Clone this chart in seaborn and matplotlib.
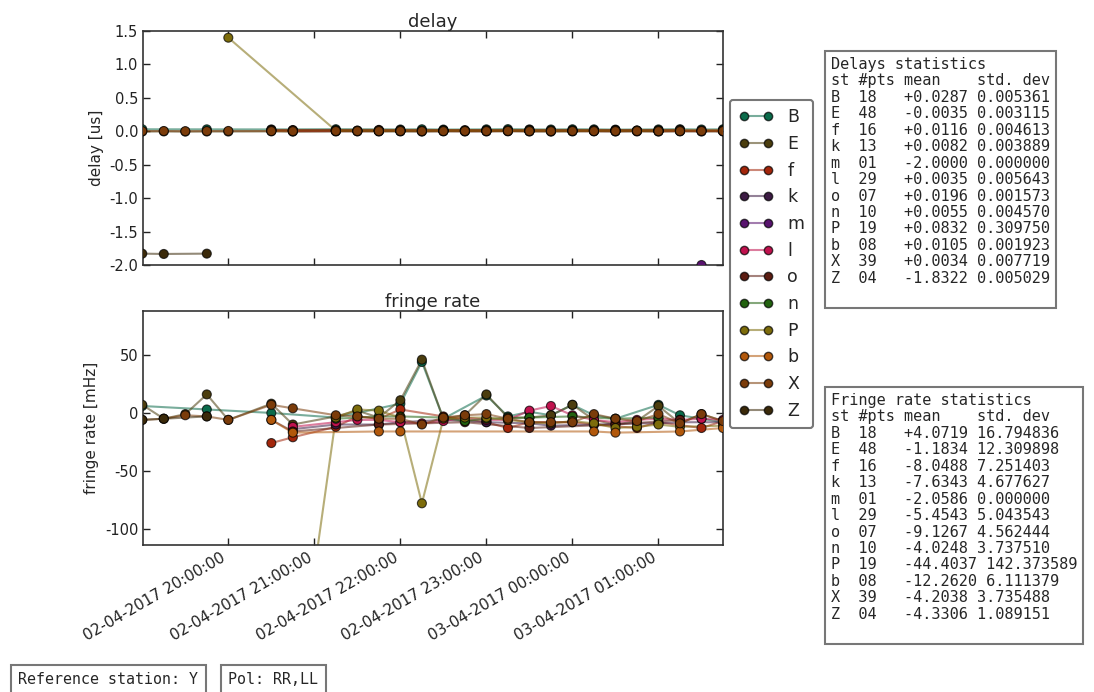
import pandas as pd
import matplotlib
matplotlib.use("Agg")
import matplotlib.pyplot as plt
import matplotlib.dates as mdates
from matplotlib.lines import Line2D
from matplotlib.ticker import MultipleLocator
import seaborn as sns

# scan times (15 min grid)
times = ["2017-04-02 19:00", "2017-04-02 19:15", "2017-04-02 19:30", "2017-04-02 19:45",
         "2017-04-02 20:00", "2017-04-02 20:30", "2017-04-02 20:45", "2017-04-02 21:15",
         "2017-04-02 21:30", "2017-04-02 21:45", "2017-04-02 22:00", "2017-04-02 22:15",
         "2017-04-02 22:30", "2017-04-02 22:45", "2017-04-02 23:00", "2017-04-02 23:15",
         "2017-04-02 23:30", "2017-04-02 23:45", "2017-04-03 00:00", "2017-04-03 00:15",
         "2017-04-03 00:30", "2017-04-03 00:45", "2017-04-03 01:00", "2017-04-03 01:15",
         "2017-04-03 01:30", "2017-04-03 01:45"]

stations = ["B", "E", "f", "k", "m", "l", "o", "n", "P", "b", "X", "Z"]
colors = ["#0b6b4b", "#4b3d0e", "#a3260b", "#3d1c44", "#58136e", "#c0124e",
          "#5c1d12", "#22620f", "#7d6c0b", "#b2580b", "#7b3c0a", "#3b2a0a"]

# per station: scan index, delay [us], fringe rate [mHz]
B_idx = [0, 3, 5, 7, 10, 11, 12, 14, 15, 16, 17, 18, 19, 20, 22, 23, 24, 25]
B_delay = [0.030, 0.029, 0.028, 0.031, 0.027, 0.030, 0.026, 0.029, 0.032,
           0.028, 0.027, 0.030, 0.029, 0.025, 0.028, 0.031, 0.027, 0.030]
B_rate = [6, 3, 0, -4, 8, 44, -5, 15, -3, 1, -2, 7, -2, -5, 7, -2, -5, -8]

E_idx = [0, 1, 2, 3, 4, 5, 6, 7, 8, 9, 10, 11, 12, 13, 14, 15, 16, 17, 18, 19, 20, 21, 22, 23, 24, 25]
E_delay = [-0.004, -0.002, -0.005, -0.003, -0.004, -0.001, -0.006, -0.003, -0.002,
           -0.004, -0.003, -0.005, -0.002, -0.004, -0.003, -0.001, -0.004, -0.006,
           -0.003, -0.002, -0.004, -0.003, -0.005, -0.002, -0.004, -0.003]
E_rate = [7, -5, -1, 16, -6, 8, -10, -3, 2, -4, 11, 46, -5, -2, 16, -4, -4, -2,
          7, -6, -10, -7, 6, -9, -1, -7]

f_idx = [5, 6, 7, 8, 9, 10, 12, 14, 15, 16, 18, 19, 21, 22, 24, 25]
f_delay = [0.012, 0.010, 0.013, 0.011, 0.012, 0.009, 0.014, 0.012, 0.011,
           0.010, 0.013, 0.012, 0.011, 0.012, 0.010, 0.013]
f_rate = [-26, -21, -12, -3, -5, 3, -3, -8, -13, -8, -8, -10, -13, -8, -13, -7]

k_idx = [6, 7, 9, 10, 12, 14, 16, 17, 19, 21, 22, 23, 25]
k_delay = [0.008, 0.009, 0.007, 0.008, 0.010, 0.008, 0.007, 0.009, 0.008,
           0.008, 0.009, 0.007, 0.008]
k_rate = [-14, -10, -10, -8, -6, -8, -9, -11, -10, -9, -9, -8, -8]

m_idx = [24]
m_delay = [-2.0]
m_rate = [-2.06]

l_idx = [6, 7, 8, 9, 10, 11, 12, 13, 14, 15, 16, 17, 18, 19, 20, 21, 22, 23, 24, 25]
l_delay = [0.004, 0.003, 0.002, 0.004, 0.005, 0.003, 0.004, 0.002, 0.003, 0.004,
           0.003, 0.005, 0.004, 0.003, 0.002, 0.004, 0.003, 0.004, 0.003, 0.004]
l_rate = [-12, -8, -6, -6, -8, -9, -7, -4, -6, -6, 2, 6, -2, -6, -8, -6, -5, -6, -5, -6]

o_idx = [5, 6, 9, 13, 16, 20, 23]
o_delay = [0.020, 0.019, 0.021, 0.018, 0.020, 0.019, 0.020]
o_rate = [-6, -16, -10, -8, -13, -10, -6]

n_idx = [7, 9, 10, 12, 13, 14, 16, 18, 20, 22]
n_delay = [0.005, 0.006, 0.004, 0.006, 0.005, 0.007, 0.005, 0.006, 0.004, 0.005]
n_rate = [-5, -3, -3, -4, -7, -5, -4, -3, -5, -4]

P_idx = [4, 7, 8, 9, 10, 11, 12, 13, 14, 15, 16, 17, 18, 19, 20, 21, 22, 23, 25]
P_delay = [1.40, 0.010, 0.008, 0.009, 0.011, 0.007, 0.010, 0.009, 0.008, 0.010,
           0.011, 0.009, 0.008, 0.010, 0.009, 0.011, 0.008, 0.010, 0.009]
P_rate = [-665, -4, 3, 2, -4, -78, -5, -4, -4, -6, -8, -9, -7, -9, -13, -12, -10, -12, -11]

b_idx = [5, 6, 9, 10, 19, 20, 23, 25]
b_delay = [0.010, 0.011, 0.010, 0.012, 0.010, 0.009, 0.011, 0.010]
b_rate = [-6, -17, -16, -16, -16, -17, -16, -13]

X_idx = [0, 1, 2, 3, 4, 5, 6, 7, 8, 9, 10, 11, 12, 13, 14, 15, 16, 17, 18, 19, 20, 21, 22, 23, 24, 25]
X_delay = [0.003, 0.004, 0.002, 0.003, 0.005, 0.003, 0.002, 0.004, 0.003, 0.003,
           0.004, 0.002, 0.003, 0.004, 0.003, 0.005, 0.003, 0.002, 0.004, 0.003,
           0.003, 0.004, 0.002, 0.003, 0.004, 0.003]
X_rate = [-6, -5, -2, -3, -6, 7, 4, -2, -3, -5, -5, -10, -4, -2, -1, -5, -8, -8,
          -8, -1, -5, -7, -1, -9, -1, -7]

Z_idx = [0, 1, 3]
Z_delay = [-1.830, -1.835, -1.830]
Z_rate = [-6, -5, -3]

# statistics boxes
delay_npts = [18, 48, 16, 13, 1, 29, 7, 10, 19, 8, 39, 4]
delay_mean = [0.0287, -0.0035, 0.0116, 0.0082, -2.0, 0.0035, 0.0196, 0.0055, 0.0832, 0.0105, 0.0034, -1.8322]
delay_std = [0.005361, 0.003115, 0.004613, 0.003889, 0.0, 0.005643, 0.001573, 0.004570,
             0.309750, 0.001923, 0.007719, 0.005029]
rate_mean = [4.0719, -1.1834, -8.0488, -7.6343, -2.0586, -5.4543, -9.1267, -4.0248,
             -44.4037, -12.2620, -4.2038, -4.3306]
rate_std = [16.794836, 12.309898, 7.251403, 4.677627, 0.0, 5.043543, 4.562444, 3.737510,
            142.373589, 6.111379, 3.735488, 1.089151]

series = {
    "B": (B_idx, B_delay, B_rate), "E": (E_idx, E_delay, E_rate),
    "f": (f_idx, f_delay, f_rate), "k": (k_idx, k_delay, k_rate),
    "m": (m_idx, m_delay, m_rate), "l": (l_idx, l_delay, l_rate),
    "o": (o_idx, o_delay, o_rate), "n": (n_idx, n_delay, n_rate),
    "P": (P_idx, P_delay, P_rate), "b": (b_idx, b_delay, b_rate),
    "X": (X_idx, X_delay, X_rate), "Z": (Z_idx, Z_delay, Z_rate),
}

rows = []
for st in stations:
    idx, dl, rt = series[st]
    for i, d, r in zip(idx, dl, rt):
        rows.append((pd.Timestamp(times[i]), st, d, r))
df = pd.DataFrame(rows, columns=["time", "station", "delay", "rate"])

pal = dict(zip(stations, colors))

sns.set_style("ticks", {"xtick.direction": "in", "ytick.direction": "in",
                         "axes.edgecolor": "#333333"})
plt.rcParams["font.family"] = ["DejaVu Sans"]
plt.rcParams["axes.unicode_minus"] = False
plt.rcParams["xtick.top"] = True
plt.rcParams["ytick.right"] = True

fig = plt.figure(figsize=(10.94, 6.92), dpi=100)
ax1 = fig.add_axes([143 / 1094, 1 - 265 / 692, 580 / 1094, 234 / 692])
ax2 = fig.add_axes([143 / 1094, 1 - 545 / 692, 580 / 1094, 234 / 692], sharex=ax1)

for ax, col in [(ax1, "delay"), (ax2, "rate")]:
    sns.lineplot(data=df, x="time", y=col, hue="station", palette=pal, hue_order=stations,
                 estimator=None, alpha=0.55, lw=1.5, ax=ax, legend=False)
    sns.scatterplot(data=df, x="time", y=col, hue="station", palette=pal, hue_order=stations,
                    s=42, edgecolor=(0, 0, 0, 0.7), linewidth=0.8, ax=ax, legend=False, zorder=3)
    for sp in ax.spines.values():
        sp.set_linewidth(1.2)
    ax.tick_params(length=5, width=1, labelsize=10.5, colors="#222222")

ax1.set_xlim(pd.Timestamp("2017-04-02 19:00:30"), pd.Timestamp(times[-1]))
ax1.set_ylim(-2.0, 1.5)
ax1.yaxis.set_major_locator(MultipleLocator(0.5))
ax1.yaxis.set_major_formatter(matplotlib.ticker.FormatStrFormatter("%.1f"))
ax1.set_title("delay", fontsize=13, pad=3)
ax1.set_ylabel("delay [us]", fontsize=11)
ax1.set_xlabel("")
ax1.tick_params(axis="x", labelbottom=False)

ax2.set_ylim(-114, 88)
ax2.yaxis.set_major_locator(MultipleLocator(50))
ax2.set_title("fringe rate", fontsize=13, pad=3)
ax2.set_ylabel("fringe rate [mHz]", fontsize=11)
ax2.set_xlabel("")
ax2.xaxis.set_major_locator(mdates.HourLocator())
ax2.xaxis.set_major_formatter(mdates.DateFormatter("%d-%m-%Y %H:%M:%S"))
plt.setp(ax2.get_xticklabels(), rotation=30, ha="right", fontsize=11)

handles = []
for c in colors:
    rgb = matplotlib.colors.to_rgb(c)
    handles.append(Line2D([0], [0], color=rgb + (0.55,), lw=1.5, marker="o", markersize=6,
                          markerfacecolor=rgb, markeredgecolor=(0, 0, 0, 0.7)))
leg = fig.legend(handles, stations, loc="center left", bbox_to_anchor=(730 / 1094, 1 - 264 / 692),
                 fontsize=12.5, numpoints=2, labelspacing=0.5, handlelength=2.0,
                 frameon=True, fancybox=True, borderpad=0.5, borderaxespad=0)
leg.get_frame().set_edgecolor("#555555")
leg.get_frame().set_linewidth(1.5)

box = dict(boxstyle="square,pad=0.4", fc="white", ec="#777777", lw=1.5)
hdr = "st #pts mean    std. dev"
dl_lines = ["Delays statistics", hdr]
fr_lines = ["Fringe rate statistics", hdr]
for st, n, m, s in zip(stations, delay_npts, delay_mean, delay_std):
    dl_lines.append(f"{st}  {n:02d}   {m:+.4f} {s:.6f}")
for st, n, m, s in zip(stations, delay_npts, rate_mean, rate_std):
    fr_lines.append(f"{st}  {n:02d}   {m:+.4f} {s:.6f}")
dl_lines.append(" ")
fr_lines.append(" ")

fig.text(831 / 1094, 1 - 57 / 692, "\n".join(dl_lines), family="DejaVu Sans Mono",
         fontsize=11, va="top", ha="left", linespacing=1.12, bbox=box)
fig.text(831 / 1094, 1 - 393 / 692, "\n".join(fr_lines), family="DejaVu Sans Mono",
         fontsize=11, va="top", ha="left", linespacing=1.12, bbox=box)

box2 = dict(boxstyle="square,pad=0.5", fc="white", ec="#777777", lw=1.5)
fig.text(18 / 1094, 1 - 680 / 692, "Reference station: Y", family="DejaVu Sans Mono",
         fontsize=10.8, va="center", ha="left", bbox=box2)
fig.text(228 / 1094, 1 - 680 / 692, "Pol: RR,LL", family="DejaVu Sans Mono",
         fontsize=10.8, va="center", ha="left", bbox=box2)

fig.savefig("out.png", dpi=100)
